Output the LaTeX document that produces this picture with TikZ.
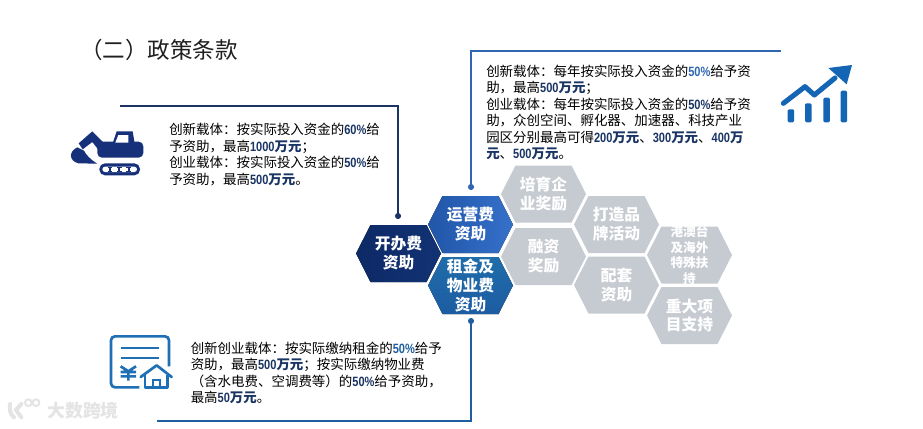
\documentclass[tikz,border=0pt]{standalone}
\usepackage{fontspec}
\setmainfont{Noto Sans CJK SC}
\newfontfamily\numf[FakeStretch=0.82,BoldFont={Liberation Sans Bold}]{Liberation Sans}
\definecolor{navy}{HTML}{1A3564}
\definecolor{midblue}{HTML}{2F66B0}
\definecolor{lowblue}{HTML}{1F5F9F}
\definecolor{hexgray}{HTML}{C6CAD1}
\definecolor{digger}{HTML}{16307A}
\definecolor{chart}{HTML}{1565B5}
\definecolor{bill}{HTML}{1F6FB4}
\definecolor{wmark}{HTML}{E4E4E4}
\definecolor{kaiA}{HTML}{0D2A66}
\definecolor{kaiB}{HTML}{123274}
\definecolor{yunA}{HTML}{2156A8}
\definecolor{yunB}{HTML}{3570CA}
\definecolor{zuA}{HTML}{1F6DAA}
\definecolor{zuB}{HTML}{1D5CA2}
\colorlet{hlc}{navy}
\newcommand\dg[1]{{\color{hlc}\numf\bfseries #1}}
\newcommand\wy[1]{{\color{hlc}\bfseries #1}}
\newcommand\hexn[6]{%
  \begin{scope}[shift={(#2,#3)}]
    \fill[#4] (-42.5,0) -- (-28,-28.5) -- (28,-28.5) -- (42.5,0) -- (28,28.5) -- (-28,28.5) -- cycle;
    \node[#5] (#1) at (0,0) {#6};
  \end{scope}}
\tikzset{
  hextext/.style={text=white,align=center,inner sep=0pt,font=\fontsize{11.8}{14.2}\selectfont\bfseries},
  hexsmall/.style={text=white,align=center,inner sep=0pt,font=\fontsize{9.5}{11.6}\selectfont\bfseries},
  bodytext/.style={anchor=north west,align=left,inner sep=0pt,text=black,font=\fontsize{10.1}{12.4}\selectfont},
  linkline/.style={line width=1.5pt},
  enddot/.style={circle,minimum size=4.6pt,inner sep=0pt},
  grayhex/.style={fill=hexgray},
}
\begin{document}
\begin{tikzpicture}[x=0.75pt,y=-0.75pt]
\useasboundingbox (0,0) rectangle (923,428);
\fill[white] (0,0) rectangle (923,428);

\node[anchor=west,inner sep=0pt,text=black!88,font=\fontsize{16.9}{20}\selectfont] (title) at (80,50) {（二）政策条款};

% hexagons
\hexn{kai}{398.5}{253.5}{left color=kaiA,right color=kaiB}{hextext}{开办费\\资助}
\hexn{yun}{470.5}{224.5}{left color=yunA,right color=yunB}{hextext}{运营费\\资助}
\hexn{zu}{470.5}{285.5}{top color=zuA,bottom color=zuB}{hextext}{租金及\\物业费\\资助}
\hexn{pei}{543.5}{194}{grayhex}{hextext}{培育企\\业奖励}
\hexn{rong}{543.5}{256.5}{grayhex}{hextext}{融资\\奖励}
\hexn{da}{616.5}{224.5}{grayhex}{hextext}{打造品\\牌活动}
\hexn{ps}{616.5}{285}{grayhex}{hextext}{配套\\资助}
\hexn{gang}{689.5}{255}{grayhex}{hexsmall}{港澳台\\及海外\\特殊扶\\持}
\hexn{zhong}{689.5}{315.5}{grayhex}{hextext}{重大项\\目支持}

% connectors
\coordinate (aStart) at (120,106);
\node[enddot,fill=navy] (aEnd) at (398,216) {};
\draw[linkline,navy] (aStart) -| (aEnd);
\coordinate (bStart) at (781,51);
\node[enddot,fill=midblue] (bEnd) at (471,187) {};
\draw[linkline,midblue] (bStart) -| (bEnd);
\coordinate (cStart) at (157,421);
\node[enddot,fill=lowblue] (cEnd) at (471,321) {};
\draw[linkline,lowblue] (cStart) -| (cEnd);

% texts
\node[bodytext] (ta) at (169,123) {\colorlet{hlc}{navy}创新载体：按实际投入资金的\dg{60\%}给\\予资助，最高\dg{1000}\wy{万元}；\\创业载体：按实际投入资金的\dg{50\%}给\\予资助，最高\dg{500}\wy{万元}。};
\node[bodytext] (tb) at (486,64.5) {\colorlet{hlc}{midblue}创新载体：每年按实际投入资金的\dg{50\%}给予资\\助，最高\dg{500}\wy{万元}；\\创业载体：每年按实际投入资金的\dg{50\%}给予资\\助，众创空间、孵化器、加速器、科技产业\\园区分别最高可得\dg{200}\wy{万元}、\dg{300}\wy{万元}、\dg{400}\wy{万}\\\wy{元}、\dg{500}\wy{万元}。};
\node[bodytext] (tc) at (190.5,341.5) {\colorlet{hlc}{lowblue}创新创业载体：按实际缴纳租金的\dg{50\%}给予\\资助，最高\dg{500}\wy{万元}；按实际缴纳物业费\\（含水电费、空调费等）的\dg{50\%}给予资助，\\最高\dg{50}\wy{万元}。};

% excavator icon
\begin{scope}[shift={(60,120)},x=.25pt,y=-.25pt]
  \fill[digger,rounded corners=3.5pt] (112,113) -- (112,65) -- (250,65) -- (250,113) -- cycle;
  \fill[digger] (158,70) -- (170,34) -- (218,34) -- (224,70) -- cycle;
  \fill[white] (166,68) -- (175,45) -- (205,45) -- (205,68) -- cycle;
  \fill[digger] (97,34) -- (140,78) -- (130,108) -- (97,66) -- (68,88) -- (56,70) -- cycle;
  \fill[digger] (52,82) .. controls (26,94) and (26,122) .. (55,130) -- (112,131) .. controls (90,118) and (78,104) .. (72,92) -- cycle;
  \fill[digger,rounded corners=4.2pt] (118,130) rectangle (240,166);
  \fill[white,rounded corners=2pt] (127,140) rectangle (231,156);
  \foreach \rx in {150,178,206} {
    \fill[digger] (\rx-7,141) rectangle (\rx+7,144.5);
    \fill[digger] (\rx-7,151.5) rectangle (\rx+7,155);
    \fill[digger] (\rx-3,141) rectangle (\rx+3,155);
  }
\end{scope}

% chart icon
\begin{scope}[shift={(775,60)},x=.25pt,y=-.25pt]
  \foreach \bx/\by in {38/148,90/130,145/113,197/92} {
    \fill[chart,rounded corners=1pt] (\bx,187) rectangle (\bx+19.5,\by);
  }
  \draw[chart,line width=3.8pt,line cap=round,line join=round] (25,130) -- (90,80) -- (118,105) -- (180,54);
  \fill[chart] (160,24) -- (231,15) -- (215,73) -- cycle;
\end{scope}

% bill icon
\begin{scope}[shift={(100,328)},x=.25pt,y=-.25pt]
  \draw[bill,line width=2pt,rounded corners=3pt] (118,178) -- (33,178) -- (33,25) -- (207,25) -- (207,115);
  \draw[bill,line width=1.9pt] (62,60) -- (178,60) (62,90) -- (178,90);
  \draw[bill,line width=2pt] (62,115) -- (85,130) -- (108,115) (85,130) -- (85,158) (62,132) -- (108,132) (62,145) -- (108,145);
  \draw[bill,line width=2pt,line join=round,line cap=round] (122,147) -- (170,112) -- (215,147);
  \draw[bill,line width=2pt,line join=round] (135,140) -- (135,178) -- (203,178) -- (203,140);
  \draw[bill,line width=1.7pt] (158,178) -- (158,155) -- (180,155) -- (180,178);
\end{scope}

% watermark
\begin{scope}[shift={(0,390)},x=.25pt,y=-.25pt]
  \draw[wmark,line width=3pt,line cap=round] (30,42) .. controls (28,60) and (30,72) .. (42,82) (64,42) -- (48,60) -- (64,82);
  \draw[wmark,line width=1.5pt] (85,38) circle[radius=10] (108,38) circle[radius=10];
\end{scope}
\node[inner sep=0pt,text=wmark,font=\fontsize{13.4}{14}\selectfont\bfseries] (wm) at (83,411) {大数跨境};
\end{tikzpicture}
\end{document}
